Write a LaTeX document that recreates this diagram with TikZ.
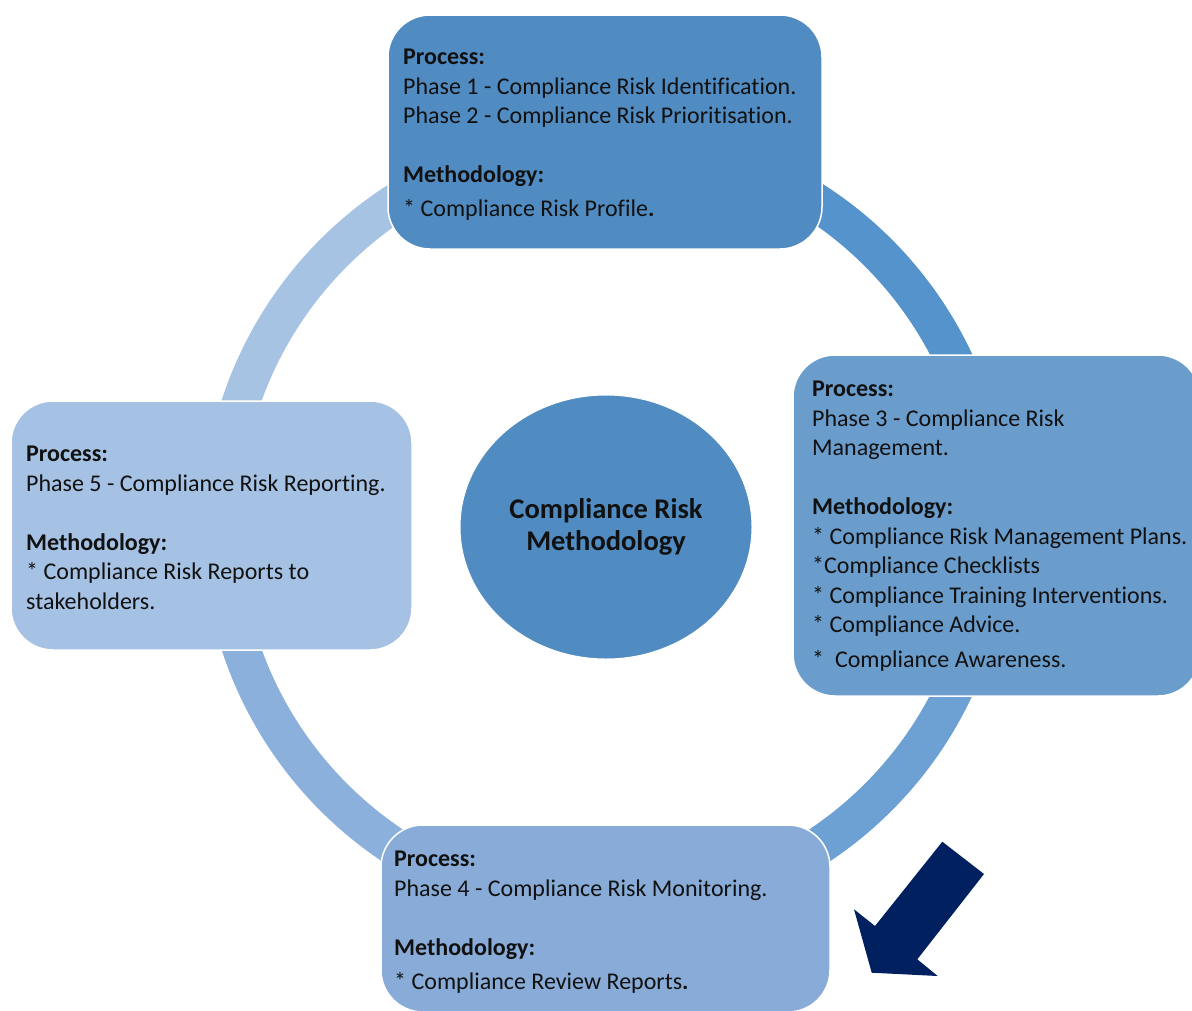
\documentclass[tikz,border=0pt]{standalone}
\usepackage{fontspec}
\setmainfont{Carlito}[Ligatures=NoCommon]
\usetikzlibrary{shapes.geometric}
\definecolor{boxA}{HTML}{508BC1}
\definecolor{boxB}{HTML}{6A9CCC}
\definecolor{boxC}{HTML}{88ACD7}
\definecolor{boxD}{HTML}{A5C2E4}
\definecolor{ringTR}{HTML}{5593CC}
\definecolor{ringBR}{HTML}{6EA1D3}
\definecolor{ringBL}{HTML}{8AB0DB}
\definecolor{ringTL}{HTML}{A6C3E4}
\definecolor{navy}{HTML}{002060}
\definecolor{ink}{HTML}{111111}
\begin{document}
\begin{tikzpicture}[x=1pt,y=-1pt,
  phasebox/.style={draw=white, line width=1.5pt, rounded corners=42pt, inner sep=0pt},
  txt/.style={anchor=north west, inner sep=0pt, align=left, text=ink,
    font=\fontsize{24}{29.5}\selectfont},
  hub/.style={ellipse, fill=boxA, draw=white, line width=1pt, inner sep=0pt,
    minimum width=292pt, minimum height=264pt, align=center, text=ink,
    font=\fontsize{28.5}{32}\selectfont\bfseries}
]
\useasboundingbox (0,0) rectangle (1192,1010);
\clip (0,0) rectangle (1192,1010);
\fill[white] (0,0) rectangle (1192,1010);

% ring segments
\begin{scope}[shift={(606,525)}]
\fill[ringTR] (270:404) arc[start angle=270,end angle=360,radius=404] -- (360:366) arc[start angle=360,end angle=270,radius=366] -- cycle;
\fill[ringBR] (0:404) arc[start angle=0,end angle=90,radius=404] -- (90:366) arc[start angle=90,end angle=0,radius=366] -- cycle;
\fill[ringBL] (90:404) arc[start angle=90,end angle=180,radius=404] -- (180:366) arc[start angle=180,end angle=90,radius=366] -- cycle;
\fill[ringTL] (180:404) arc[start angle=180,end angle=270,radius=404] -- (270:366) arc[start angle=270,end angle=180,radius=366] -- cycle;
\end{scope}

% boxes
\node[phasebox, fill=boxA, minimum width=434pt, minimum height=234pt] (top) at (605,132) {};
\node[phasebox, fill=boxB, minimum width=407pt, minimum height=341pt] (right) at (996.5,525.5) {};
\node[phasebox, fill=boxC, minimum width=449pt, minimum height=187pt] (bottom) at (605.5,918.5) {};
\node[phasebox, fill=boxD, minimum width=401pt, minimum height=249pt] (left) at (211.5,525.5) {};

% hub
\node[hub] (hub) at (606,527) {Compliance Risk\\Methodology};

% texts
\node[txt] (toptext) at (403,49) {\textbf{Process:}\\
Phase 1 - Compliance Risk Identification.\\
Phase 2 - Compliance Risk Prioritisation.\\[29.5pt]
\textbf{Methodology:}\\[4.5pt]
* Compliance Risk Profile\textbf{.}};

\node[txt] (righttext) at (812,381) {\textbf{Process:}\\
Phase 3 - Compliance Risk\\
Management.\\[29.5pt]
\textbf{Methodology:}\\
* Compliance Risk Management Plans.\\
*Compliance Checklists\\
* Compliance Training Interventions.\\
* Compliance Advice.\\[5pt]
*\ \ Compliance Awareness.};

\node[txt] (lefttext) at (26,446) {\textbf{Process:}\\
Phase 5 - Compliance Risk Reporting.\\[29.5pt]
\textbf{Methodology:}\\
* Compliance Risk Reports to\\
stakeholders.};

\node[txt] (bottomtext) at (394,851) {\textbf{Process:}\\
Phase 4 - Compliance Risk Monitoring.\\[29.5pt]
\textbf{Methodology:}\\[4.5pt]
* Compliance Review Reports\textbf{.}};

% block arrow
\fill[navy] (942.3,841.7) -- (984,874) -- (917.3,959.3) -- (937.7,976) -- (871.7,972.7) -- (854,909.3) -- (875,926) -- cycle;
\end{tikzpicture}
\end{document}
